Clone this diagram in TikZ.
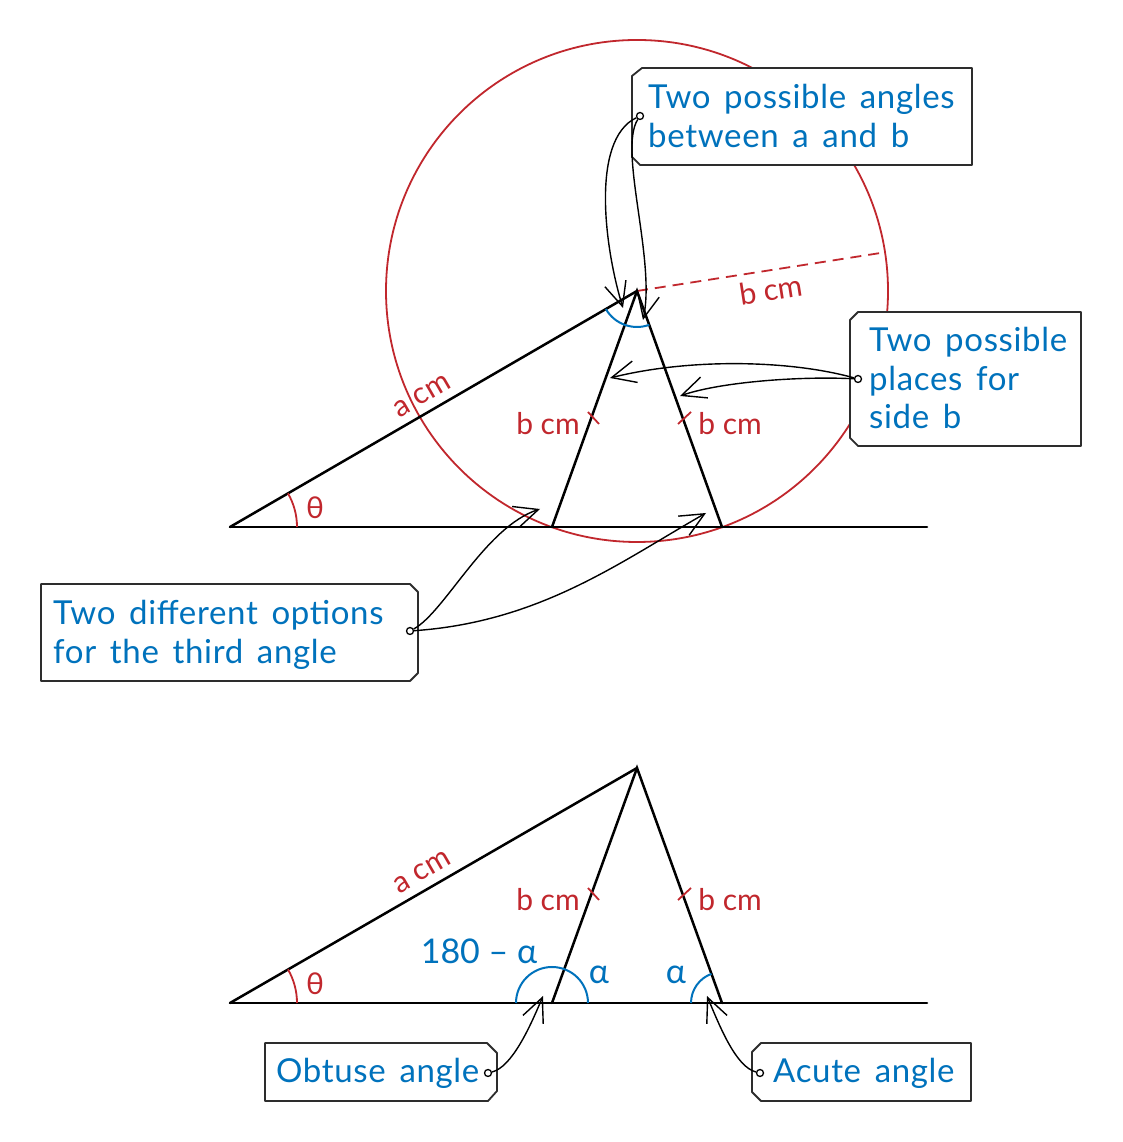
\documentclass[tikz,border=0pt]{standalone}
\usepackage{fontspec}
\setmainfont{Lato}
\newfontfamily\boxfont{Lato}[LetterSpace=2.0,WordSpace=1.5]
\usetikzlibrary{arrows.meta,calc}
\definecolor{cred}{RGB}{193,39,45}
\definecolor{cblue}{RGB}{0,114,188}
\definecolor{cframe}{RGB}{45,45,45}
\begin{document}
\begin{tikzpicture}[x=1pt,y=1pt,
  geom/.style={line width=2.5pt,black,line cap=round},
  redl/.style={cred,line width=1.8pt},
  bluearc/.style={cblue,line width=2pt},
  redtxt/.style={text=cred,font=\fontsize{30}{36}\selectfont,inner sep=0pt},
  bluetxt/.style={text=cblue,font=\fontsize{34}{40}\selectfont,inner sep=0pt},
  boxtxt/.style={text=cblue,font=\boxfont\fontsize{33}{39}\selectfont,inner sep=0pt,anchor=base west},
  tagbox/.style={draw=cframe,fill=white,line width=1.8pt,line join=round},
  pin/.style={circle,draw=black,fill=white,line width=1.3pt,inner sep=0pt,minimum size=7pt},
  conn/.style={line width=1.4pt,-{Straight Barb[length=24pt,width=22pt]}}
]
\path[fill=white] (0,0) rectangle (1123,1142);
\useasboundingbox (0,0) rectangle (1123,1142);

% ---------- top figure ----------
\coordinate (A1) at (230,615);
\coordinate (P1) at (637,851);
\coordinate (L1) at (552,615);
\coordinate (R1) at (722,615);
\coordinate (E1) at (927,615);
\coordinate (D1) at ($(P1)+(8.87:251)$);

\draw[redl] (P1) circle[radius=251];
\draw[redl,dash pattern=on 11pt off 7pt] (P1) -- (D1);
\draw[geom] (A1) -- (E1);
\draw[geom] (A1) -- (P1);
\draw[geom] (L1) -- (P1) -- (R1);
\draw[redl] ($(A1)+(0:67)$) arc[start angle=0,end angle=30.11,radius=67];
\draw[bluearc] ($(P1)+(210.11:36)$) arc[start angle=210.11,end angle=289.81,radius=36];
\draw[redl] (588,730) -- (599,718);
\draw[redl] (678,718) -- (691,730);

\node[redtxt,rotate=30.11] (la1) at (422,746) {a cm};
\node[redtxt] (lb1) at (548,718) {b cm};
\node[redtxt] (rb1) at (730,718) {b cm};
\node[redtxt,rotate=8.87] (db1) at (771,852) {b cm};
\node[redtxt] (th1) at (315,634) {θ};

% ---------- bottom figure ----------
\coordinate (A2) at (230,139);
\coordinate (P2) at (637,374);
\coordinate (L2) at (552,139);
\coordinate (R2) at (722,139);
\coordinate (E2) at (927,139);

\draw[geom] (A2) -- (E2);
\draw[geom] (A2) -- (P2);
\draw[geom] (L2) -- (P2) -- (R2);
\draw[redl] ($(A2)+(0:67)$) arc[start angle=0,end angle=30.11,radius=67];
\draw[bluearc] ($(L2)+(0:36)$) arc[start angle=0,end angle=180,radius=36];
\draw[bluearc] ($(R2)+(109.81:31)$) arc[start angle=109.81,end angle=180,radius=31];
\draw[redl] (588,254) -- (599,242);
\draw[redl] (678,242) -- (691,254);

\node[redtxt,rotate=30.11] (la2) at (422,270) {a cm};
\node[redtxt] (lb2) at (548,242) {b cm};
\node[redtxt] (rb2) at (730,242) {b cm};
\node[redtxt] (th2) at (315,158) {θ};
\node[bluetxt] (obt) at (479,191) {180 – α};
\node[bluetxt] (al1) at (599,167) {α};
\node[bluetxt] (al2) at (676,167) {α};

% ---------- callout boxes ----------
\draw[tagbox] (642,1074) -- (972,1074) -- (972,977) -- (640,977) -- (632,985) -- (632,1066) -- cycle;
\node[boxtxt] (t1a) at (648,1033) {Two possible angles};
\node[boxtxt] (t1b) at (648,994) {between a and b};

\draw[tagbox] (858,830) -- (1081,830) -- (1081,696) -- (858,696) -- (850,704) -- (850,822) -- cycle;
\node[boxtxt] (t2a) at (869,790) {Two possible};
\node[boxtxt] (t2b) at (869,751) {places for};
\node[boxtxt] (t2c) at (869,713) {side b};

\draw[tagbox] (41,558) -- (410,558) -- (418,550) -- (418,469) -- (410,461) -- (41,461) -- cycle;
\node[boxtxt] (t3a) at (53,517) {Two different options};
\node[boxtxt] (t3b) at (53,478) {for the third angle};

\draw[tagbox] (265,99) -- (487,99) -- (497,89) -- (497,51) -- (488,41) -- (265,41) -- cycle;
\node[boxtxt] (t4) at (276,59) {Obtuse angle};

\draw[tagbox] (761,99) -- (971,99) -- (971,41) -- (761,41) -- (752,50) -- (752,90) -- cycle;
\node[boxtxt] (t5) at (773,59) {Acute angle};

% ---------- connectors ----------
\coordinate (a1) at (623,834);
\coordinate (a2) at (643,822);
\coordinate (p1) at (610,764);
\coordinate (p2) at (680,746);
\coordinate (o1) at (540,633);
\coordinate (o2) at (706,629);
\coordinate (ob) at (543,146);
\coordinate (ac) at (707,146);

\node[pin] (d1) at (640,1026) {};
\node[pin] (d2) at (858,763) {};
\node[pin] (d3) at (410,511) {};
\node[pin] (d4) at (488,69) {};
\node[pin] (d5) at (760,69) {};

\draw[conn] (d1) .. controls (590,1002) and (605,892) .. (a1);
\draw[conn] (d1) .. controls (618,992) and (656,882) .. (a2);
\draw[conn] (d2) .. controls (790,782) and (690,784) .. (p1);
\draw[conn] (d2) .. controls (800,766) and (720,760) .. (p2);
\draw[conn] (d3) .. controls (445,530) and (485,615) .. (o1);
\draw[conn] (d3) .. controls (540,520) and (620,580) .. (o2);
\draw[conn] (d4) .. controls (512,75) and (530,115) .. (ob);
\draw[conn] (d5) .. controls (736,75) and (720,115) .. (ac);
\end{tikzpicture}
\end{document}
